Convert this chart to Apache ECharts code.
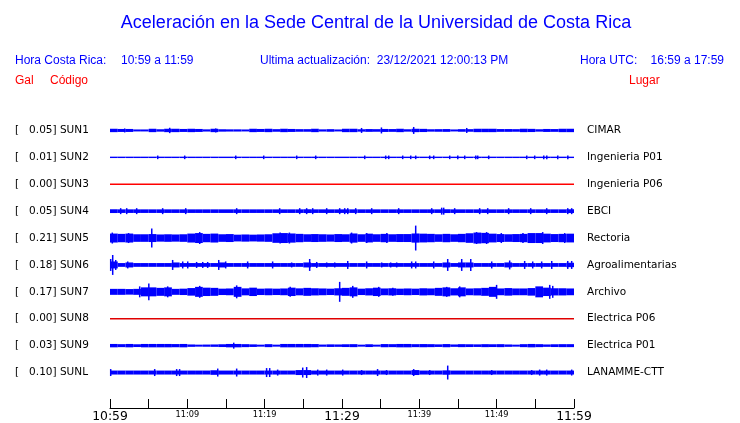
<!DOCTYPE html>
<html><head><meta charset="utf-8">
<script src="https://cdn.jsdelivr.net/npm/echarts@6/dist/echarts.min.js"></script>
<style>html,body{margin:0;padding:0;background:#fff}#c{width:740px;height:423px}</style>
</head><body><div id="c"></div><script>
// ---- data ----
const codes = ['SUN1','SUN2','SUN3','SUN4','SUN5','SUN6','SUN7','SUN8','SUN9','SUNL'];
const peaks = ['0.05','0.01','0.00','0.05','0.21','0.18','0.17','0.00','0.03','0.10'];
const places = ['CIMAR','Ingenieria P01','Ingenieria P06','EBCI','Rectoria','Agroalimentarias','Archivo','Electrica P06','Electrica P01','LANAMME-CTT'];
const tickLabels = ['10:59','11:09','11:19','11:29','11:39','11:49','11:59'];
const bigTicks = ['10:59','11:29','11:59'];

// envelope half-amplitudes per minute (display units)
const sun1Env = [1.7,1.5,1.5,1.0,1.0,1.7,1.2,1.7,1.7,1.5, 1.7,1.5,1.1,1.7,1.2,1.1,1.1,1.0,1.7,1.5,
                 1.7,1.3,1.7,1.5,1.3,1.3,1.7,1.1,1.3,1.0, 1.7,1.7,1.2,1.4,1.3,1.5,1.4,1.7,1.2,1.7,
                 1.6,1.2,1.3,1.4,1.0,1.3,1.3,1.7,1.7,1.7, 1.4,1.4,1.3,1.7,1.6,1.2,1.5,1.4,1.7,1.7];
const sun2Env = [0.7,0.7,0.7,0.7,0.7,0.7,0.7,0.7,0.7,0.7, 0.7,0.7,0.7,0.7,0.7,0.7,0.7,0.7,0.7,0.7,
                 0.7,0.7,0.7,0.7,0.7,0.7,0.7,0.7,0.7,0.7, 0.7,0.7,0.7,0.7,0.7,0.7,0.7,0.7,0.7,0.7,
                 0.7,0.7,0.7,0.7,0.7,0.7,0.7,0.7,0.7,0.7, 0.7,0.7,0.7,0.7,0.7,0.7,0.7,0.7,0.7,0.7];
const sun3Line = [[0,0.00],[60,0.00]];
const sun4Env = [1.9,1.8,1.8,1.8,1.8,1.8,1.8,1.8,1.8,1.8, 1.8,1.8,1.8,1.8,1.8,1.8,1.8,1.8,1.8,1.8,
                 1.8,1.8,1.8,1.8,1.8,1.9,1.8,1.8,1.8,1.8, 1.8,1.8,1.8,1.8,1.8,1.8,1.8,1.8,1.8,1.8,
                 1.8,1.8,1.8,1.9,1.8,1.8,1.8,1.8,1.8,1.8, 1.8,1.8,1.8,1.8,1.8,1.8,1.8,1.8,1.8,1.9];
const sun5Env = [4.5,4.2,4.5,3.8,3.8,4.0,3.6,3.8,3.6,3.8, 4.5,5.0,4.2,4.5,3.8,4.0,3.4,3.6,3.4,3.6,
                 3.8,4.8,5.0,4.6,4.2,3.8,4.0,3.8,3.6,4.0, 3.8,4.6,3.8,4.4,3.8,4.2,3.8,4.0,4.0,4.6,
                 4.4,4.2,3.8,4.2,3.8,4.2,4.8,5.5,5.2,4.4, 4.0,3.8,4.0,4.2,5.0,5.0,4.4,4.0,4.2,4.4];
const sun6Env = [3.5,1.9,2.5,1.9,1.9,1.9,1.9,1.9,2.5,1.9, 1.9,1.9,1.9,1.9,2.5,1.9,1.9,1.9,1.9,1.9,
                 1.9,1.9,1.9,1.9,1.9,2.5,1.9,1.9,1.9,1.9, 1.9,1.9,1.9,1.9,1.9,1.9,1.9,1.9,1.9,1.9,
                 1.9,1.9,1.9,2.5,1.9,2.5,2.5,1.9,1.9,1.9, 1.9,2.5,1.9,1.9,1.9,1.9,1.9,1.9,1.9,2.2];
const sun7Env = [3.0,3.0,2.8,3.0,4.5,4.5,4.0,4.5,3.0,3.2, 3.8,5.0,4.2,4.0,3.2,3.4,5.0,3.5,4.2,3.2,
                 3.4,3.2,3.4,4.2,3.5,4.0,3.6,3.4,3.2,3.6, 4.0,4.5,3.2,3.6,4.2,3.4,3.6,3.2,3.4,3.2,
                 3.6,3.4,4.0,4.5,3.6,4.5,3.4,3.6,4.0,5.0, 3.4,3.8,3.4,3.4,3.8,5.5,4.2,3.6,3.6,3.4];
const sun8Line = [[0,0.00],[60,0.00]];
const sun9Env = [1.7,1.5,1.7,1.4,1.7,1.7,1.7,1.7,1.6,1.7, 1.2,1.0,1.1,1.2,1.4,1.7,1.7,1.5,1.3,1.0,
                 1.5,1.0,1.7,1.7,1.7,1.7,1.6,1.1,1.3,1.2, 1.4,1.5,1.0,1.4,1.0,1.6,1.5,1.7,1.7,1.5,
                 1.6,1.5,1.3,1.6,1.2,1.5,1.4,1.3,1.5,1.4, 1.5,1.2,1.0,1.5,1.7,1.5,1.2,1.4,1.5,1.5];
const sunLEnv = [2.0,2.0,2.0,2.0,2.0,2.0,2.0,2.0,2.0,2.0, 2.0,2.0,2.0,2.3,2.0,2.0,2.0,2.0,2.0,2.0,
                 2.0,2.0,2.0,2.0,2.5,2.5,2.0,2.0,2.0,2.0, 2.0,2.0,2.0,2.0,2.0,2.0,2.0,2.0,2.0,2.5,
                 2.0,2.0,2.0,2.2,2.0,2.0,2.0,2.0,2.0,2.0, 2.0,2.0,2.0,2.0,2.0,2.0,2.0,2.0,2.0,2.0];

// spikes: [minute, half-amplitude]
const sun1Spikes = [[1.9,2.0],[7.72,2.7],[13.67,2.0],[32.53,2.5],[35.1,3.0],[39.27,3.5],[46.13,2.5]];
const sun2Spikes = [[6.17,1.8],[9.66,1.8],[16.26,1.8],[19.88,1.8],[24.14,1.8],[26.6,1.8],[32.94,1.8],[35.65,1.8],
                    [36.04,1.8],[37.85,1.8],[38.89,1.8],[39.53,1.8],[41.34,1.8],[41.86,1.8],[43.93,1.8],[44.97,1.8],
                    [45.87,1.8],[47.3,1.8],[47.55,1.8],[48.97,1.8],[53.89,1.8],[54.92,1.8],[56.09,1.8],[56.48,1.8],
                    [57.9,1.8],[59.2,1.8]];
const sun4Spikes = [[1.38,3],[2.16,3],[3.45,3],[6.81,3],[9.79,3],[16.38,3],[21.94,3],[24.53,3],[25.43,3],[26.21,3],
                    [28.02,3],[29.7,3],[30.35,3],[30.74,3],[31.77,3],[33.84,3],[37.33,3],[41.6,3],[42.89,3.5],[43.15,3.5],
                    [44.57,3],[47.8,3],[48.84,3],[51.55,3],[54.4,3],[56.47,3],[59.19,3],[59.7,3]];
const sun5Spikes = [[0.3,5.5],[2.4,5],[5.4,9.5],[11.6,6],[22.0,5.5],[23.2,5.5],[31.24,5.5],[33.2,5],[35.8,5],
                    [39.53,12.5],[47.4,6],[48.7,6],[50.6,5],[53.4,5],[55.95,6],[58.8,5]];
const sun6Spikes = [[0.09,6],[0.35,10],[0.74,5],[2.29,3.5],[8.1,5],[9.4,3.5],[10.05,3.5],[11.2,3],[11.99,3],[12.63,3],
                    [14.06,5],[14.96,3.5],[17.8,3.5],[21.03,3.5],[23.49,2.5],[25.82,6],[26.73,3],[28.02,2.5],[29.06,2.5],
                    [30.74,4],[33.19,3.5],[35.13,2.5],[36.29,2.5],[37.07,2.5],[39.01,3.5],[39.53,3.5],[41.86,3.5],
                    [43.67,6],[45.48,6],[46.65,6],[49.36,3.5],[51.68,4.5],[53.62,4],[54.66,3.5],[55.82,3.5],
                    [57.12,4],[59.19,4],[59.7,4]];
const sun7Spikes = [[3.84,5.5],[5.02,8.5],[7.46,5.5],[11.6,6],[16.38,6.5],[23.3,5],[29.7,10],[31.39,6],[34.75,5],
                    [36.57,4],[43.54,5],[45.22,5.5],[49.99,7],[56.86,7],[57.25,6]];
const sun9Spikes = [[16.0,3.0]];
const sunLSpikes = [[0.09,3.5],[5.78,3.5],[8.62,3.5],[9.0,3.5],[13.93,4],[16.38,4],[20.25,4.5],[20.65,4.5],[21.68,3],
                    [24.92,5],[25.43,5.5],[26.86,3],[28.02,3],[30.09,3],[32.54,2.5],[34.6,3.5],[35.76,2.5],[39.27,3.5],
                    [41.34,2.5],[43.67,7],[49.36,2.5],[54.53,2.5],[55.56,3],[56.47,3],[59.7,3]];

const traces = [
  {env: sun1Env, spikes: sun1Spikes},
  {env: sun2Env, spikes: sun2Spikes},
  {line: sun3Line, color: '#ff0000', width: 1.6},
  {env: sun4Env, spikes: sun4Spikes},
  {env: sun5Env, spikes: sun5Spikes},
  {env: sun6Env, spikes: sun6Spikes},
  {env: sun7Env, spikes: sun7Spikes},
  {line: sun8Line, color: '#e00000', width: 1.3},
  {env: sun9Env, spikes: sun9Spikes},
  {env: sunLEnv, spikes: sunLSpikes}
];

// ---- layout ----
const ROW = 27;            // y-units per trace row
const BLUE = '#0000ff';
const chart = echarts.init(document.getElementById('c'), null, {renderer: 'canvas'});

function renderItem(params, api) {
  const t0 = api.value(0), t1 = api.value(1), a = api.value(2), c = api.value(3);
  const p0 = api.coord([t0, c - a]);
  const p1 = api.coord([t1, c + a]);
  let x = p0[0], w = p1[0] - p0[0];
  if (w < 1.5) { x = p0[0] - 0.75; w = 1.5; }
  const y = Math.min(p0[1], p1[1]);
  const h = Math.max(Math.abs(p1[1] - p0[1]), 1);
  return {type: 'rect', shape: {x: x, y: y, width: w, height: h}, style: {fill: BLUE}};
}

const series = [];
traces.forEach((tr, i) => {
  const c = (i + 0.5) * ROW;
  if (tr.line) {
    series.push({type: 'line', xAxisIndex: 0, yAxisIndex: 0, symbol: 'none', silent: true,
      data: tr.line.map(p => [p[0], c + p[1]]),
      lineStyle: {color: tr.color, width: tr.width}, animation: false});
  } else {
    const data = tr.env.map((a, k) => [k, k + 1, a, c]).concat(tr.spikes.map(s => [s[0], s[0], s[1], c]));
    series.push({type: 'custom', xAxisIndex: 0, yAxisIndex: 0, renderItem: renderItem, data: data,
      silent: true, animation: false, encode: {x: [0, 1], y: 3}});
  }
});

const hdr = {color: BLUE, fontSize: 12, fontWeight: 'normal', fontFamily: 'Liberation Sans'};
const red = {color: '#ff0000', fontSize: 12, fontWeight: 'normal', fontFamily: 'Liberation Sans'};

chart.setOption({
  animation: false,
  backgroundColor: '#ffffff',
  title: [
    {text: 'Aceleración en la Sede Central de la Universidad de Costa Rica', left: 376, textAlign: 'center', top: 14,
     padding: 0, textStyle: {color: BLUE, fontSize: 18, fontWeight: 'normal', fontFamily: 'Liberation Sans'}},
    {text: 'Hora Costa Rica:', left: 15, top: 55, padding: 0, textStyle: hdr},
    {text: '10:59 a 11:59', left: 121, top: 55, padding: 0, textStyle: hdr},
    {text: 'Ultima actualización:  23/12/2021 12:00:13 PM', left: 260, top: 55, padding: 0, textStyle: hdr},
    {text: 'Hora UTC:', left: 580, top: 55, padding: 0, textStyle: hdr},
    {text: '16:59 a 17:59', right: 16, top: 55, padding: 0, textStyle: hdr},
    {text: 'Gal', left: 15, top: 75, padding: 0, textStyle: red},
    {text: 'Código', left: 50, top: 75, padding: 0, textStyle: red},
    {text: 'Lugar', left: 629, top: 75, padding: 0, textStyle: red}
  ],
  grid: {left: 110, right: 166, top: 117, height: 270, containLabel: false},
  xAxis: {
    type: 'value', min: 0, max: 60, interval: 5, offset: 22,
    axisLine: {show: true, onZero: false, lineStyle: {color: '#000', width: 1}},
    axisTick: {show: true, inside: true, length: 9, lineStyle: {color: '#000', width: 1}},
    splitLine: {show: false},
    axisLabel: {
      margin: 3, showMinLabel: true, showMaxLabel: true,
      formatter: v => {
        if (v % 10 !== 0) return '';
        const lab = tickLabels[v / 10];
        return bigTicks.indexOf(lab) >= 0 ? '{b|' + lab + '}' : '{s|' + lab + '}';
      },
      rich: {
        b: {fontSize: 12.4, fontFamily: 'DejaVu Sans', color: '#000'},
        s: {fontSize: 8.2, fontFamily: 'DejaVu Sans', color: '#000'}
      }
    }
  },
  yAxis: [
    {type: 'value', min: 0, max: 10 * ROW, inverse: true, show: false},
    {type: 'category', data: codes, inverse: true, position: 'left',
     axisLine: {show: false}, axisTick: {show: false}, splitLine: {show: false},
     axisLabel: {margin: 95, align: 'left', color: '#000', fontSize: 10.5, fontFamily: 'DejaVu Sans',
       formatter: (v, i) => '[   ' + peaks[i] + '] ' + v}},
    {type: 'category', data: places, inverse: true, position: 'right',
     axisLine: {show: false}, axisTick: {show: false}, splitLine: {show: false},
     axisLabel: {margin: 13, align: 'left', color: '#000', fontSize: 10.5, fontFamily: 'DejaVu Sans'}}
  ],
  series: series
});
</script></body></html>
